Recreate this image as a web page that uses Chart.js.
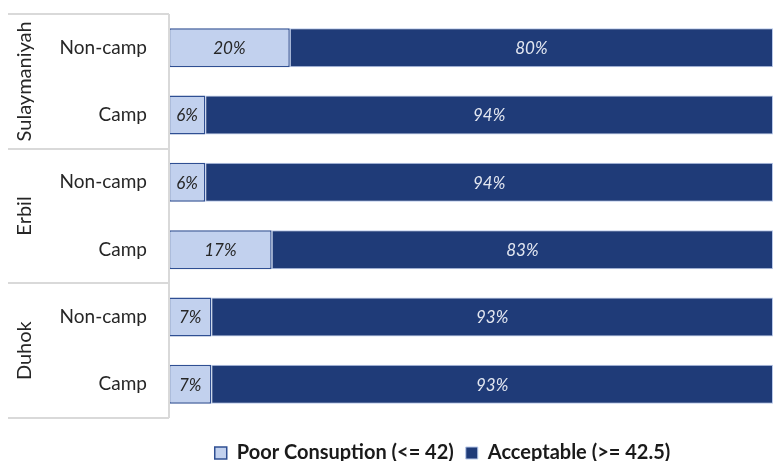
<!DOCTYPE html>
<html>
<head>
<meta charset="utf-8">
<script src="https://cdn.jsdelivr.net/npm/chart.js@4"></script>
<style>
  html, body { margin: 0; padding: 0; background: #fff; }
  #wrap { width: 773px; height: 461px; }
</style>
</head>
<body>
<div id="wrap"><canvas id="fcsChart" width="773" height="461"></canvas></div>
<script>
// Данные
const categories = ["Non-camp", "Camp", "Non-camp", "Camp", "Non-camp", "Camp"];
const groups = ["Sulaymaniyah", "Erbil", "Duhok"]; // по 2 категории на группу
const poorValues = [20, 6, 6, 17, 7, 7];
const acceptableValues = [80, 94, 94, 83, 93, 93];
const seriesNames = ["Poor Consuption (<= 42)", "Acceptable (>= 42.5)"];

const lightBlue = '#C2D1EE';
const darkBlue = '#1F3B78';
const fontFamily = 'Lato, "Open Sans", sans-serif';

// Подписи процентов внутри сегментов
const barLabels = {
    id: 'barLabels',
    afterDatasetsDraw(chart) {
        const ctx = chart.ctx;
        ctx.save();
        ctx.font = 'italic 17px ' + fontFamily;
        ctx.textAlign = 'center';
        ctx.textBaseline = 'middle';
        chart.data.datasets.forEach((ds, di) => {
            const meta = chart.getDatasetMeta(di);
            meta.data.forEach((bar, i) => {
                const x = (bar.x + bar.base) / 2;
                ctx.fillStyle = di === 0 ? '#262626' : '#E3E7F1';
                ctx.fillText(ds.data[i] + '%', x, bar.y + 1);
            });
        });
        ctx.restore();
    }
};

// Группы регионов слева: разделители и повёрнутые подписи
const groupAxis = {
    id: 'groupAxis',
    afterDraw(chart) {
        const ctx = chart.ctx;
        const y = chart.scales.y;
        const step = y.getPixelForValue(1) - y.getPixelForValue(0);
        const left = 8;
        const right = chart.chartArea.left;
        ctx.save();
        ctx.strokeStyle = '#D9D9D9';
        ctx.lineWidth = 2;
        for (let g = 0; g <= groups.length; g++) {
            const yy = Math.round(y.getPixelForValue(g * 2) - step / 2);
            ctx.beginPath();
            ctx.moveTo(left, yy);
            ctx.lineTo(right, yy);
            ctx.stroke();
        }
        ctx.beginPath();
        ctx.moveTo(right, y.getPixelForValue(0) - step / 2);
        ctx.lineTo(right, y.getPixelForValue(categories.length - 1) + step / 2);
        ctx.stroke();

        ctx.fillStyle = '#262626';
        ctx.font = '20px ' + fontFamily;
        ctx.textAlign = 'center';
        ctx.textBaseline = 'middle';
        groups.forEach((name, g) => {
            const cy = (y.getPixelForValue(g * 2) + y.getPixelForValue(g * 2 + 1)) / 2;
            ctx.save();
            ctx.translate(25, cy);
            ctx.rotate(-Math.PI / 2);
            ctx.fillText(name, 0, 0);
            ctx.restore();
        });
        ctx.restore();
    }
};

// Сдвиг легенды: вправо и немного вниз, как в исходнике
const legendShift = {
    id: 'legendShift',
    afterLayout(chart) {
        const lg = chart.legend;
        lg.left += 56;
        lg.right += 56;
        lg.top += 13;
        lg.bottom += 13;
    }
};

const ctx = document.getElementById('fcsChart').getContext('2d');
const chart = new Chart(ctx, {
    type: 'bar',
    data: {
        labels: categories,
        datasets: [{
            label: seriesNames[0],
            data: poorValues,
            backgroundColor: lightBlue,
            borderColor: '#2F4F93',
            borderWidth: 1.5,
            borderSkipped: false,
            barPercentage: 0.58,
            categoryPercentage: 1
        }, {
            label: seriesNames[1],
            data: acceptableValues,
            backgroundColor: darkBlue,
            borderColor: '#B9C9EA',
            borderWidth: 1,
            borderSkipped: false,
            barPercentage: 0.58,
            categoryPercentage: 1
        }]
    },
    options: {
        indexAxis: 'y',
        responsive: false,
        animation: false,
        layout: { padding: { top: 14, right: 0, left: 0, bottom: 1 } },
        scales: {
            x: {
                stacked: true,
                min: 0,
                max: 100,
                display: false
            },
            y: {
                stacked: true,
                grid: { display: false, drawTicks: false },
                border: { display: false },
                ticks: {
                    color: '#262626',
                    font: { family: fontFamily, size: 19 },
                    padding: 22
                },
                afterFit(scale) {
                    scale.width = 169;
                    scale.paddingTop = 0;
                    scale.paddingBottom = 0;
                }
            }
        },
        plugins: {
            legend: {
                position: 'bottom',
                labels: {
                    color: '#1a1a1a',
                    font: { family: fontFamily, size: 20, weight: 'bold' },
                    boxWidth: 12,
                    boxHeight: 12,
                    padding: 12
                }
            },
            tooltip: { enabled: false }
        }
    },
    plugins: [barLabels, groupAxis, legendShift]
});
</script>
</body>
</html>
